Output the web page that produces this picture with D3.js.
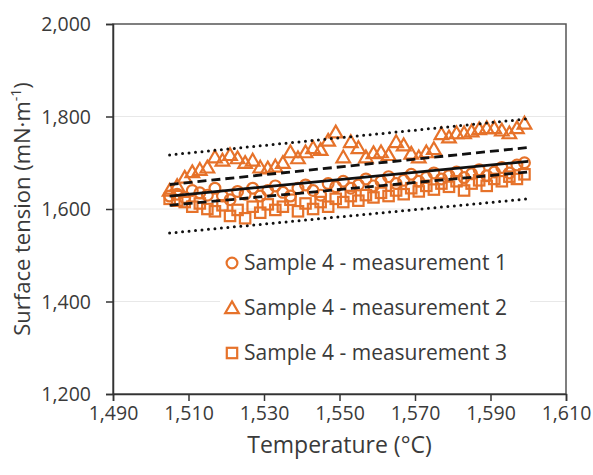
<!DOCTYPE html>
<html><head><meta charset="utf-8">
<script src="https://cdn.jsdelivr.net/npm/d3@7"></script>
<style>html,body{margin:0;padding:0;background:#fff;}svg{display:block;}</style>
</head><body>
<svg id="chart" width="593" height="475"></svg>
<script>
// ---- data ----
const temps = [1505,1507,1509,1511,1513,1515,1517,1519,1521,1523,1525,1527,1529,1531,1533,1535,1537,1539,1541,1543,1545,1547,1549,1551,1553,1555,1557,1559,1561,1563,1565,1567,1569,1571,1573,1575,1577,1579,1581,1583,1585,1587,1589,1591,1593,1595,1597,1599];
const meas1 = [1628,1632,1625,1640,1635,1630,1645,1628,1620,1638,1632,1645,1628,1640,1650,1636,1628,1645,1652,1640,1630,1655,1648,1660,1645,1652,1665,1650,1660,1670,1655,1662,1675,1660,1668,1678,1665,1672,1680,1668,1676,1685,1672,1680,1690,1678,1695,1700];
const meas2 = [1640,1650,1668,1680,1685,1690,1712,1705,1717,1710,1700,1705,1690,1688,1692,1700,1723,1710,1723,1732,1728,1748,1766,1712,1745,1732,1712,1721,1723,1717,1745,1738,1720,1712,1723,1730,1762,1755,1764,1764,1768,1773,1775,1775,1770,1764,1775,1785];
const meas3 = [1622,1618,1615,1605,1612,1600,1595,1608,1585,1598,1580,1605,1592,1610,1598,1605,1620,1595,1612,1600,1615,1605,1622,1615,1628,1618,1630,1625,1635,1628,1640,1632,1645,1638,1650,1642,1655,1648,1660,1640,1655,1662,1650,1665,1660,1670,1665,1675];
const fitT = [1505, 1600];
const fitLine = [1628, 1703];
const confUpper = [1653, 1733];
const confLower = [1608, 1680];
const predUpper = [1717, 1795];
const predLower = [1548, 1622];
const xTicks = [1490,1510,1530,1550,1570,1590,1610];
const yTicks = [1200,1400,1600,1800,2000];
const seriesNames = ["Sample 4 - measurement 1","Sample 4 - measurement 2","Sample 4 - measurement 3"];
const markerShapes = ["circle","triangle","square"];

// ---- layout ----
const svg = d3.select("#chart");
const X0 = 113, X1 = 566, Y0 = 24, Y1 = 394;
const x = d3.scaleLinear().domain([1490,1610]).range([X0,X1]);
const y = d3.scaleLinear().domain([1200,2000]).range([Y1,Y0]);
const orange = "#E6722A";
const textCol = "#3a3a3a";
const font = "'Open Sans', sans-serif";

// faint gridlines
svg.append("g").selectAll("line").data(yTicks.slice(1,-1)).join("line")
  .attr("x1",X0).attr("x2",X1).attr("y1",d=>y(d)).attr("y2",d=>y(d))
  .attr("stroke","#e8e8e8").attr("stroke-width",1);

// frame
svg.append("rect").attr("x",X0).attr("y",Y0).attr("width",X1-X0).attr("height",Y1-Y0)
  .attr("fill","none").attr("stroke","#555").attr("stroke-width",1.5);

// axes
const fmt = d3.format(",");
const xAxis = svg.append("g").attr("transform",`translate(0,${Y1})`)
  .call(d3.axisBottom(x).tickValues(xTicks).tickFormat(fmt).tickSize(7).tickPadding(5));
const yAxis = svg.append("g").attr("transform",`translate(${X0},0)`)
  .call(d3.axisLeft(y).tickValues(yTicks).tickFormat(fmt).tickSize(7).tickPadding(15));
[xAxis,yAxis].forEach(a=>{
  a.select(".domain").attr("stroke","#333").attr("stroke-width",1.5);
  a.selectAll(".tick line").attr("stroke","#333").attr("stroke-width",1.5);
  a.selectAll(".tick text").attr("fill",textCol).style("font-family",font).style("font-size","19.5px");
});
yAxis.selectAll(".tick text").attr("dy","0.35em");

// markers
const symTri = d3.symbol().type(d3.symbolTriangle).size(80);
function drawMarker(g, shape, cx, cy) {
  if (shape==="circle") {
    g.append("circle").attr("cx",cx).attr("cy",cy).attr("r",5.4)
      .attr("fill","none").attr("stroke",orange).attr("stroke-width",2.2);
  } else if (shape==="square") {
    g.append("rect").attr("x",cx-5.2).attr("y",cy-5.2).attr("width",10.4).attr("height",10.4)
      .attr("fill","none").attr("stroke",orange).attr("stroke-width",2.2);
  } else {
    g.append("path").attr("d",symTri()).attr("transform",`translate(${cx},${cy+1.2})`)
      .attr("fill","none").attr("stroke",orange).attr("stroke-width",2.2);
  }
}
const seriesVals = [meas1, meas2, meas3];
const pts = svg.append("g");
seriesVals.forEach((vals,si)=>{
  const g = pts.append("g");
  vals.forEach((v,i)=>drawMarker(g, markerShapes[si], x(temps[i]), y(v)));
});

// fit lines
const lineGen = d3.line().x((d,i)=>x(fitT[i])).y(d=>y(d));
const lines = svg.append("g").attr("fill","none").attr("stroke","#111");
lines.append("path").attr("d",lineGen(predUpper)).attr("stroke-width",3).attr("stroke-dasharray","0,6.5").attr("stroke-linecap","round");
lines.append("path").attr("d",lineGen(predLower)).attr("stroke-width",3).attr("stroke-dasharray","0,6.5").attr("stroke-linecap","round");
lines.append("path").attr("d",lineGen(confUpper)).attr("stroke-width",2.8).attr("stroke-dasharray","9,5");
lines.append("path").attr("d",lineGen(confLower)).attr("stroke-width",2.8).attr("stroke-dasharray","9,5");
lines.append("path").attr("d",lineGen(fitLine)).attr("stroke-width",2.8);

// legend
const leg = svg.append("g");
leg.append("rect").attr("x",220).attr("y",243).attr("width",310).attr("height",130).attr("fill","#fff");
const legY = [263, 308, 353];
seriesNames.forEach((name,i)=>{
  const gi = leg.append("g");
  drawMarker(gi, markerShapes[i], 232, legY[i]);
  gi.append("text").attr("x",244).attr("y",legY[i]).attr("dy","0.35em")
    .attr("fill",textCol).style("font-family",font).style("font-size","21px").text(name);
});

// axis titles
svg.append("text").attr("x",(X0+X1)/2).attr("y",453).attr("text-anchor","middle")
  .attr("fill",textCol).style("font-family",font).style("font-size","23px").text("Temperature (°C)");
const yt = svg.append("text").attr("transform","translate(30,209) rotate(-90)").attr("text-anchor","middle")
  .attr("fill",textCol).style("font-family",font).style("font-size","22px");
yt.append("tspan").text("Surface tension (mN·m");
yt.append("tspan").attr("baseline-shift","super").style("font-size","14px").text("-1");
yt.append("tspan").text(")");
</script>
</body></html>
